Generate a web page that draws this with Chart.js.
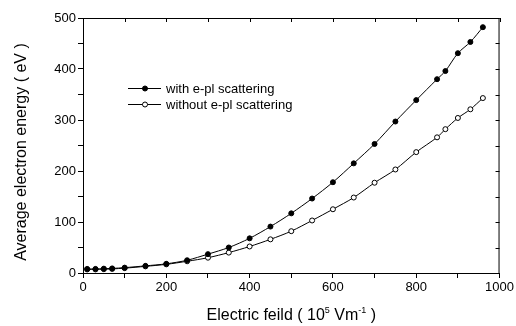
<!DOCTYPE html>
<html>
<head>
<meta charset="utf-8">
<script src="https://cdn.jsdelivr.net/npm/chart.js@4"></script>
<style>
  html, body { margin: 0; padding: 0; background: #fff; }
  #wrap { width: 516px; height: 326px; }
</style>
</head>
<body>
<div id="wrap"><canvas id="my-chart" width="516" height="326"></canvas></div>
<script>
// field values (10^5 V/m)
var field = [10, 30, 50, 70, 100, 150, 200, 250, 300, 350, 400, 450, 500, 550, 600, 650, 700, 750, 800, 850, 870, 900, 930, 960];
// average electron energy (eV)
var withScatter = [8, 8, 8.5, 9, 10.5, 14, 18, 25, 37, 50, 68, 91, 117, 146, 178, 215, 253, 297, 339, 380, 396, 431, 453, 482];
var withoutScatter = [7, 7, 7.5, 8, 9.5, 13, 17, 23, 30, 40, 52, 66, 82, 103, 125, 148, 177, 203, 237, 266, 282, 304, 321, 343];
var seriesNames = ['with e-pl scattering', 'without e-pl scattering'];
var xTitle = ['Electric feild ( 10', '5', ' Vm', '-1', ' )'];
var yTitle = 'Average electron energy ( eV )';

var FONT = 'Arial, "Liberation Sans", sans-serif';

function toPts(xs, ys) {
	var out = [];
	for (var i = 0; i < xs.length; i++) out.push({x: xs[i], y: ys[i]});
	return out;
}

// top/right frame with inward ticks, custom legend and titles
var extras = {
	id: 'extras',
	afterDraw: function(chart) {
		var c = chart.ctx, a = chart.chartArea;
		var xs = chart.scales.x, ys = chart.scales.y;
		c.save();
		c.strokeStyle = '#000';
		c.lineWidth = 1;
		c.beginPath();
		c.moveTo(a.left, a.top + 0.5); c.lineTo(a.right, a.top + 0.5);
		c.moveTo(a.right - 0.5, a.top); c.lineTo(a.right - 0.5, a.bottom);
		xs.ticks.forEach(function(t) {
			var px = Math.round(xs.getPixelForValue(t.value)) + 0.5;
			c.moveTo(px, a.top); c.lineTo(px, a.top + 4);
		});
		ys.ticks.forEach(function(t) {
			var py = Math.round(ys.getPixelForValue(t.value)) + 0.5;
			c.moveTo(a.right, py); c.lineTo(a.right - 4, py);
		});
		c.stroke();

		// legend
		var lx = 128, ly = [88, 104];
		chart.data.datasets.forEach(function(ds, i) {
			c.strokeStyle = '#000';
			c.beginPath();
			c.moveTo(lx, ly[i] + 0.5); c.lineTo(lx + 33, ly[i] + 0.5);
			c.stroke();
			c.beginPath();
			c.arc(lx + 17, ly[i] + 0.5, 2.5, 0, Math.PI * 2);
			c.fillStyle = ds.pointBackgroundColor;
			c.fill();
			c.stroke();
			c.fillStyle = '#000';
			c.font = '13px ' + FONT;
			c.textBaseline = 'middle';
			c.textAlign = 'left';
			c.fillText(ds.label, lx + 38, ly[i] + 1);
		});

		// x title with superscripts
		c.fillStyle = '#000';
		c.textBaseline = 'alphabetic';
		var big = '16px ' + FONT, small = '9px ' + FONT;
		var parts = [[xTitle[0], big, 0], [xTitle[1], small, -7], [xTitle[2], big, 0], [xTitle[3], small, -7], [xTitle[4], big, 0]];
		var w = 0;
		parts.forEach(function(p) { c.font = p[1]; w += c.measureText(p[0]).width; });
		var x0 = (a.left + a.right) / 2 - w / 2, base = 320;
		parts.forEach(function(p) {
			c.font = p[1];
			c.fillText(p[0], x0, base + p[2]);
			x0 += c.measureText(p[0]).width;
		});

		// y title
		c.translate(22, 152);
		c.rotate(-Math.PI / 2);
		c.font = '16px ' + FONT;
		c.textAlign = 'center';
		c.textBaseline = 'middle';
		c.fillText(yTitle, 0, 0);
		c.restore();
	}
};

var ctx = document.getElementById('my-chart');
var chart = new Chart(ctx, {
	type: 'line',
	data: {
		datasets: [{
			label: seriesNames[0],
			data: toPts(field, withScatter),
			borderColor: '#000',
			borderWidth: 1,
			pointRadius: 2.5,
			pointBorderWidth: 1,
			pointBackgroundColor: '#000',
			pointBorderColor: '#000',
			tension: 0.3
		}, {
			label: seriesNames[1],
			data: toPts(field, withoutScatter),
			borderColor: '#000',
			borderWidth: 1,
			pointRadius: 2.5,
			pointBorderWidth: 1,
			pointBackgroundColor: '#fff',
			pointBorderColor: '#000',
			tension: 0.3
		}]
	},
	options: {
		responsive: false,
		animation: false,
		layout: { padding: { top: 18, right: 16, left: 0, bottom: 0 } },
		plugins: { legend: { display: false }, tooltip: { enabled: false } },
		scales: {
			x: {
				type: 'linear',
				min: 0, max: 1000,
				afterFit: function(s) { s.height = 53; },
				border: { color: '#000', width: 1 },
				grid: { drawOnChartArea: false, color: '#000', tickLength: 5 },
				ticks: {
					stepSize: 100,
					maxRotation: 0,
					autoSkip: false,
					padding: 2,
					color: '#000',
					font: { family: FONT, size: 13 },
					callback: function(v) { return v % 200 === 0 ? String(v) : ''; }
				}
			},
			y: {
				min: 0, max: 500,
				afterFit: function(s) { s.width = 83; },
				border: { color: '#000', width: 1 },
				grid: { drawOnChartArea: false, color: '#000', tickLength: 5 },
				ticks: {
					stepSize: 50,
					autoSkip: false,
					padding: 2,
					color: '#000',
					font: { family: FONT, size: 13 },
					callback: function(v) { return v % 100 === 0 ? String(v) : ''; }
				}
			}
		}
	},
	plugins: [extras]
});
</script>
</body>
</html>
